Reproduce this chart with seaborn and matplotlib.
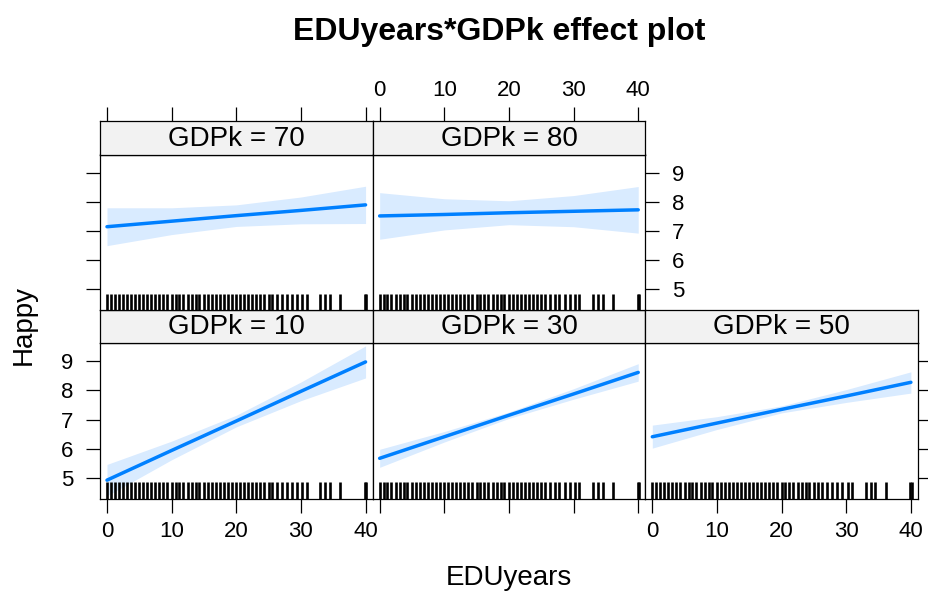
import matplotlib
matplotlib.use("Agg")
import matplotlib.pyplot as plt
import pandas as pd
import seaborn as sns

sns.set_style("white")
plt.rcParams["font.family"] = ["Liberation Sans", "DejaVu Sans"]
plt.rcParams.update({"text.color": "black", "axes.labelcolor": "black",
                     "xtick.color": "black", "ytick.color": "black"})

# ---- data -------------------------------------------------------------
edu_grid = [0, 10, 20, 30, 40]

fit_10 = [4.92, 5.94, 6.95, 7.97, 8.98]
low_10 = [4.38, 5.62, 6.75, 7.65, 8.43]
upp_10 = [5.46, 6.26, 7.15, 8.29, 9.53]

fit_30 = [5.67, 6.41, 7.15, 7.88, 8.62]
low_30 = [5.36, 6.23, 7.04, 7.70, 8.32]
upp_30 = [5.98, 6.59, 7.26, 8.06, 8.92]

fit_50 = [6.41, 6.88, 7.35, 7.81, 8.28]
low_50 = [6.02, 6.66, 7.23, 7.59, 7.91]
upp_50 = [6.81, 7.10, 7.47, 8.03, 8.64]

fit_70 = [7.15, 7.34, 7.53, 7.71, 7.90]
low_70 = [6.50, 6.88, 7.16, 7.25, 7.26]
upp_70 = [7.80, 7.80, 7.90, 8.17, 8.54]

fit_80 = [7.52, 7.57, 7.63, 7.68, 7.73]
low_80 = [6.72, 7.04, 7.22, 7.15, 6.93]
upp_80 = [8.32, 8.11, 8.04, 8.22, 8.53]

# observed EDUyears values shown as a rug in every panel
rug_edu = [0, 0.6, 1.2, 1.8, 2.5, 3.1, 3.7, 4.3, 5.0, 5.6, 6.2, 6.8, 7.5,
           8.1, 8.7, 9.3, 10.0, 10.6, 11.2, 11.8, 12.5, 13.1, 13.7, 14.3,
           15.0, 15.6, 16.2, 16.8, 17.5, 18.1, 18.7, 19.3, 20.0, 20.6, 21.2,
           21.8, 22.5, 23.1, 23.7, 24.3, 25.0, 25.6, 26.3, 27.1, 27.8, 28.6,
           29.4, 30.2, 30.9, 33.0, 33.8, 34.5, 36.1, 39.9, 40.1]

gdp_levels = [10, 30, 50, 70, 80]
x_ticks = [0, 10, 20, 30, 40]
y_ticks = [5, 6, 7, 8, 9]

series = {
    10: (fit_10, low_10, upp_10),
    30: (fit_30, low_30, upp_30),
    50: (fit_50, low_50, upp_50),
    70: (fit_70, low_70, upp_70),
    80: (fit_80, low_80, upp_80),
}
rows = []
for g in gdp_levels:
    f, lo, up = series[g]
    for x, a, b, c in zip(edu_grid, f, lo, up):
        rows.append({"GDPk": g, "EDUyears": x, "Happy": a, "lower": b, "upper": c})
df = pd.DataFrame(rows)

# ---- layout (pixels) --------------------------------------------------
W, H = 929, 595
fig = plt.figure(figsize=(W / 100, H / 100), dpi=100)

col_left = [100, 372.67, 645.33]
col_w = 272.67
row_strip = [(121.5, 154.5), (310.0, 343.0)]
row_panel = [(154.5, 310.0), (343.0, 498.5)]

# (row, col) of each level, lattice-style
place = {70: (0, 0), 80: (0, 1), 10: (1, 0), 30: (1, 1), 50: (1, 2)}

line_col = "#0080ff"
band_col = "#d9ebff"
strip_col = "#f2f2f2"
xlim = (-1.08, 41.1)
ylim = (4.29, 9.63)


def rect(x0, y0, x1, y1):
    return [x0 / W, 1 - y1 / H, (x1 - x0) / W, (y1 - y0) / H]


tick_kw = dict(direction="out", length=10, width=0.9, colors="black",
               labelsize=16, labelcolor="black")

for g in gdp_levels:
    r, c = place[g]
    x0 = col_left[c]
    x1 = x0 + col_w
    py0, py1 = row_panel[r]
    sy0, sy1 = row_strip[r]

    ax = fig.add_axes(rect(x0, py0, x1, py1))
    sub = df[df["GDPk"] == g]
    ax.fill_between(sub["EDUyears"], sub["lower"], sub["upper"],
                    color=band_col, lw=0, zorder=1)
    sns.lineplot(data=sub, x="EDUyears", y="Happy", color=line_col,
                 linewidth=2.5, ax=ax, legend=False, zorder=3)
    sns.rugplot(x=rug_edu, height=0.105, color="black", linewidth=1.9,
                ax=ax, expand_margins=False, zorder=4)
    ax.set_xlim(*xlim)
    ax.set_ylim(*ylim)
    ax.set_xlabel("")
    ax.set_ylabel("")
    ax.set_xticks(x_ticks)
    ax.set_yticks(y_ticks)
    for s in ax.spines.values():
        s.set_color("black")
        s.set_linewidth(0.9)

    # alternating axes, as in a lattice layout
    left = c == 0
    right = (r == 0 and c == 1) or (r == 1 and c == 2)
    ax.tick_params(axis="y", left=left, labelleft=(left and r == 1),
                   right=right, labelright=(right and r == 0), pad=9,
                   **tick_kw)
    bottom = r == 1
    ax.tick_params(axis="x", bottom=bottom,
                   labelbottom=(bottom and c in (0, 2)), top=False,
                   labeltop=False, pad=6, **tick_kw)

    # strip with the level label
    sax = fig.add_axes(rect(x0, sy0, x1, sy1))
    sax.set_facecolor(strip_col)
    sax.set_xlim(*xlim)
    sax.set_ylim(0, 1)
    sax.set_yticks([])
    sax.set_xticks(x_ticks)
    for s in sax.spines.values():
        s.set_color("black")
        s.set_linewidth(0.9)
    top = r == 0
    sax.tick_params(axis="x", bottom=False, labelbottom=False, top=top,
                    labeltop=(top and c == 1), pad=5, **tick_kw)
    sax.text(0.5, 0.47, f"GDPk = {g}", transform=sax.transAxes,
             ha="center", va="center", fontsize=20, color="black")

fig.text(499 / W, 1 - 40 / H, "EDUyears*GDPk effect plot", ha="center",
         va="baseline", fontsize=23, fontweight="bold", color="black")
fig.text(509 / W, 1 - 578 / H, "EDUyears", ha="center", va="center",
         fontsize=20, color="black")
fig.text(24 / W, 1 - 325 / H, "Happy", ha="center", va="center",
         fontsize=20, rotation=90, color="black")

fig.savefig("out.png", dpi=100, facecolor="white")
